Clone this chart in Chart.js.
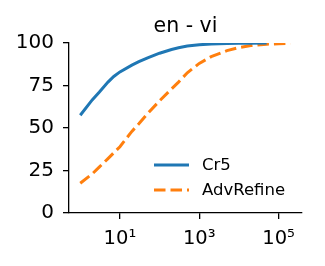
<!DOCTYPE html>
<html>
<head>
<meta charset="utf-8">
<script src="https://cdn.jsdelivr.net/npm/chart.js@4"></script>
<style>
  html, body { margin: 0; padding: 0; background: #fff; }
  #wrap { width: 325px; height: 266px; }
</style>
</head>
<body>
<div id="wrap"><canvas id="chart"></canvas></div>
<script>
// data
var titleText = "en - vi";
var cr5X = [1, 2, 3, 5, 7, 10, 20, 30, 50, 100, 200, 300, 500, 1000, 2000, 5000, 10000, 20000, 50000];
var cr5Y = [57.5, 66.5, 71, 77, 80.3, 83, 87, 89, 91.3, 94, 96.2, 97.2, 98.2, 99, 99.4, 99.7, 99.8, 99.9, 100];
var advX = [1, 2, 3, 5, 10, 20, 30, 50, 100, 200, 300, 500, 1000, 2000, 5000, 10000, 20000, 50000, 100000, 200000];
var advY = [17.5, 23, 27, 32, 39, 48, 52.5, 58.5, 66, 73, 77, 82.5, 88, 92, 95.5, 97.3, 98.5, 99.3, 99.6, 99.8];
var xTicks = [10, 1000, 100000];
var xTickLabels = ["10\u00B9", "10\u00B3", "10\u2075"];
var yTicks = [0, 25, 50, 75, 100];

var FONT = "'DejaVu Sans', sans-serif";

function toPoints(xs, ys) {
	var pts = [];
	for (var i = 0; i < xs.length; i++) pts.push({ x: xs[i], y: ys[i] });
	return pts;
}

// legend drawn inside the plot, lower right, like matplotlib
var innerLegend = {
	id: 'innerLegend',
	afterDraw: function(chart) {
		var ctx = chart.ctx;
		var area = chart.chartArea;
		ctx.save();
		ctx.font = "16.5px " + FONT;
		ctx.textBaseline = 'middle';
		ctx.fillStyle = '#000';
		chart.data.datasets.forEach(function(ds, i) {
			var y = area.bottom - 48 + i * 25;
			ctx.strokeStyle = ds.borderColor;
			ctx.lineWidth = ds.borderWidth;
			ctx.setLineDash(ds.borderDash || []);
			ctx.beginPath();
			ctx.moveTo(area.right - 148, y);
			ctx.lineTo(area.right - 113, y);
			ctx.stroke();
			ctx.setLineDash([]);
			ctx.fillText(ds.label, area.right - 100, y + 1);
		});
		ctx.restore();
	}
};

new Chart(document.getElementById('chart'), {
	type: 'line',
	data: {
		datasets: [{
			label: 'Cr5',
			data: toPoints(cr5X, cr5Y),
			borderColor: '#1f77b4',
			borderWidth: 3,
			pointRadius: 0,
			tension: 0,
			fill: false
		}, {
			label: 'AdvRefine',
			data: toPoints(advX, advY),
			borderColor: '#ff7f0e',
			borderWidth: 3,
			borderDash: [11.5, 5],
			pointRadius: 0,
			tension: 0,
			fill: false
		}]
	},
	options: {
		responsive: true,
		maintainAspectRatio: false,
		animation: false,
		layout: { padding: { left: 0, right: 23, top: 0, bottom: 0 } },
		plugins: {
			legend: { display: false },
			tooltip: { enabled: false },
			title: {
				display: true,
				text: titleText,
				fullSize: false,
				color: '#000',
				font: { family: FONT, size: 20.5, weight: 'normal' },
				padding: { top: 14, bottom: 4.4 }
			}
		},
		scales: {
			x: {
				type: 'logarithmic',
				min: 0.52,
				max: 390000,
				border: { display: true, color: '#000', width: 1.3 },
				grid: { drawOnChartArea: false, drawTicks: true, tickLength: 6, color: '#000', lineWidth: 1.3 },
				afterBuildTicks: function(axis) {
					axis.ticks = xTicks.map(function(v) { return { value: v }; });
				},
				ticks: {
					color: '#000',
					font: { family: FONT, size: 19.5 },
					padding: 8,
					autoSkip: false,
					maxRotation: 0,
					callback: function(value) {
						var i = xTicks.indexOf(value);
						return i >= 0 ? xTickLabels[i] : '';
					}
				},
				afterFit: function(axis) { axis.height = 53; }
			},
			y: {
				min: 0,
				max: 100,
				border: { display: true, color: '#000', width: 1.3 },
				grid: { drawOnChartArea: false, drawTicks: true, tickLength: 6, color: '#000', lineWidth: 1.3 },
				afterBuildTicks: function(axis) {
					axis.ticks = yTicks.map(function(v) { return { value: v }; });
				},
				ticks: {
					color: '#000',
					font: { family: FONT, size: 20 },
					padding: 9
				},
				afterFit: function(axis) { axis.width = 69; }
			}
		}
	},
	plugins: [innerLegend]
});
</script>
</body>
</html>
